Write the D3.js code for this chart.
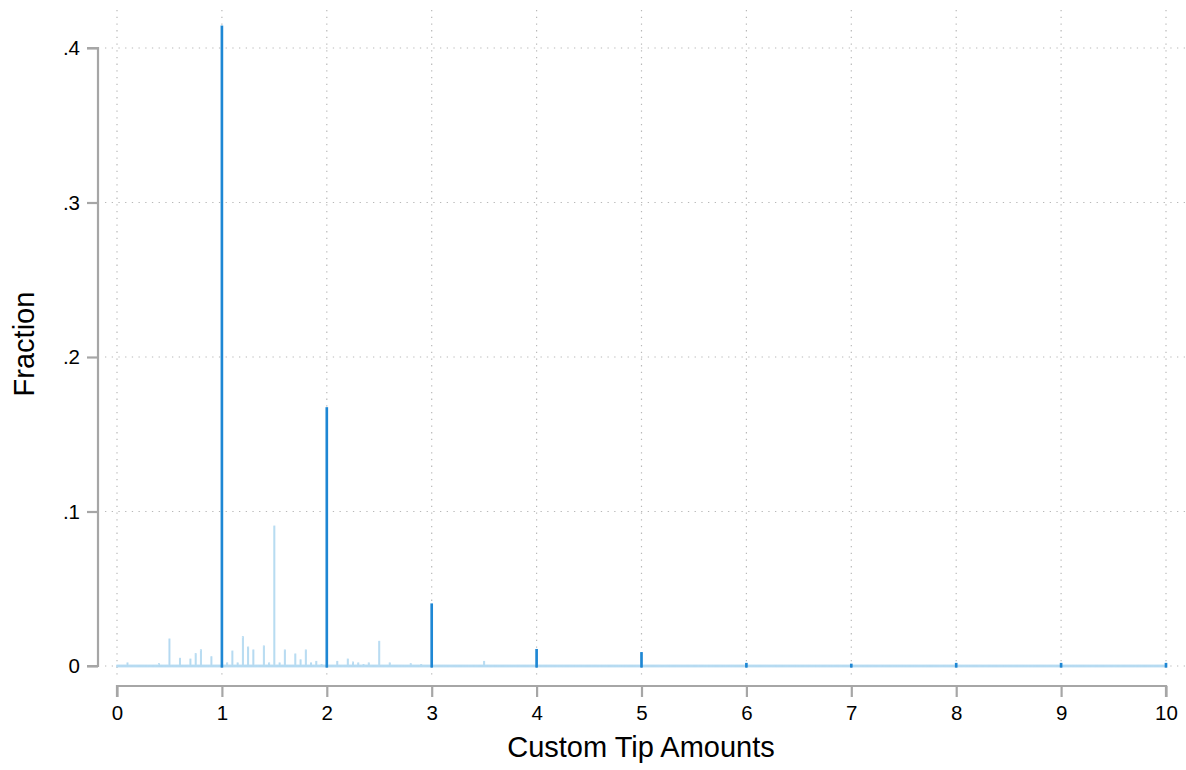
<!DOCTYPE html>
<html>
<head>
<meta charset="utf-8">
<script src="https://cdn.jsdelivr.net/npm/d3@7"></script>
<style>
  html, body { margin: 0; padding: 0; background: #fff; }
  svg { display: block; }
  text { font-family: "Liberation Sans", Arial, Helvetica, sans-serif; fill: #000; }
</style>
</head>
<body>
<svg id="chart" width="1186" height="770"></svg>
<script>
// ---- data ----
// non-integer custom tip amounts (bin value, fraction)
const lightAmounts = [0.1, 0.4, 0.5, 0.6, 0.7, 0.75, 0.8, 0.9, 1.05, 1.1, 1.15, 1.2, 1.25, 1.3, 1.4, 1.45, 1.5, 1.55, 1.6, 1.7, 1.75, 1.8, 1.85, 1.9, 1.95, 2.1, 2.2, 2.25, 2.3, 2.35, 2.4, 2.5, 2.6, 2.8, 2.9, 3.5];
const lightFractions = [0.002, 0.0015, 0.0175, 0.005, 0.0045, 0.008, 0.0105, 0.006, 0.002, 0.0097, 0.002, 0.019, 0.0123, 0.0104, 0.013, 0.002, 0.0906, 0.002, 0.0104, 0.0078, 0.004, 0.0104, 0.002, 0.003, 0.001, 0.003, 0.0045, 0.0026, 0.002, 0.001, 0.002, 0.016, 0.002, 0.0015, 0.001, 0.003];
// whole-dollar custom tip amounts
const darkAmounts = [1, 2, 3, 4, 5, 6, 7, 8, 9, 10];
const darkFractions = [0.414, 0.167, 0.040, 0.0105, 0.0085, 0.0015, 0.001, 0.0015, 0.0015, 0.0015];
// histogram bin grid
const binWidth = 0.01;
const binMin = 0, binMax = 10;
const xTicks = [0, 1, 2, 3, 4, 5, 6, 7, 8, 9, 10];
const yTicks = [0, 0.1, 0.2, 0.3, 0.4];
const yTickLabels = ["0", ".1", ".2", ".3", ".4"];
const xTitle = "Custom Tip Amounts";
const yTitle = "Fraction";

// ---- drawing ----
const svg = d3.select("#chart");
const x = d3.scaleLinear().domain([0, 10]).range([117, 1166]);
const y = d3.scaleLinear().domain([0, 0.4]).range([666, 48]);

const gridColor = "#b8b8b8";
const axisColor = "#a6a6a6";
const light = "#b5daf1";
const dark = "#1e87d4";

// grid
const grid = svg.append("g");
grid.selectAll("line.v").data(xTicks).enter().append("line")
  .attr("x1", d => x(d)).attr("x2", d => x(d))
  .attr("y1", 10).attr("y2", 679)
  .attr("stroke", gridColor).attr("stroke-width", 1.2)
  .attr("stroke-dasharray", "1.3 5.4");
grid.selectAll("line.h").data(yTicks).enter().append("line")
  .attr("y1", d => y(d)).attr("y2", d => y(d))
  .attr("x1", 105).attr("x2", 1186)
  .attr("stroke", gridColor).attr("stroke-width", 1.2)
  .attr("stroke-dasharray", "1.3 5.4");

// all bins (zero-height bins show as thin outlines along the baseline)
const nBins = Math.round((binMax - binMin) / binWidth) + 1;
const bins = d3.range(nBins).map(i => +(binMin + i * binWidth).toFixed(2));
const lightMap = new Map(lightAmounts.map((a, i) => [a.toFixed(2), lightFractions[i]]));
const darkSet = new Set(darkAmounts.map(a => a.toFixed(2)));
const bw = x(binWidth) - x(0);
const minH = 1.6;
const base = y(0) + 0.8;

svg.append("g").selectAll("rect").data(bins.filter(b => !darkSet.has(b.toFixed(2)))).enter().append("rect")
  .attr("x", d => x(d) - bw / 2)
  .attr("width", bw)
  .attr("y", d => Math.min(y(lightMap.get(d.toFixed(2)) || 0), base - minH))
  .attr("height", d => Math.max(base - y(lightMap.get(d.toFixed(2)) || 0), minH))
  .attr("fill", light).attr("stroke", light).attr("stroke-width", 0.9);

svg.append("g").selectAll("rect").data(darkAmounts).enter().append("rect")
  .attr("x", d => x(d) - bw / 2)
  .attr("width", bw)
  .attr("y", (d, i) => y(darkFractions[i]))
  .attr("height", (d, i) => base - y(darkFractions[i]))
  .attr("fill", dark).attr("stroke", dark).attr("stroke-width", 1.6);

// y axis
const yAxis = d3.axisLeft(y).tickValues(yTicks).tickFormat((d, i) => yTickLabels[i]).tickSize(11).tickPadding(7);
const gy = svg.append("g").attr("transform", "translate(98,0)").call(yAxis);
gy.select(".domain").attr("d", `M-11,${y(0.4)}H0V${y(0)}H-11`).attr("stroke", axisColor).attr("stroke-width", 2.2).attr("fill", "none");
gy.selectAll(".tick line").attr("stroke", axisColor).attr("stroke-width", 2.2);
gy.selectAll(".tick text").attr("font-size", 20.5).attr("font-family", "Liberation Sans, Arial, sans-serif").attr("fill", "#000");

// x axis
const xAxis = d3.axisBottom(x).tickValues(xTicks).tickFormat(d3.format("d")).tickSize(11).tickPadding(8);
const gx = svg.append("g").attr("transform", "translate(0,686)").call(xAxis);
gx.select(".domain").attr("d", `M${x(0)},11V0H${x(10)}V11`).attr("stroke", axisColor).attr("stroke-width", 2.2).attr("fill", "none");
gx.selectAll(".tick line").attr("stroke", axisColor).attr("stroke-width", 2.2);
gx.selectAll(".tick text").attr("font-size", 20.5).attr("font-family", "Liberation Sans, Arial, sans-serif").attr("fill", "#000");

// titles
svg.append("text").attr("x", 641).attr("y", 757).attr("text-anchor", "middle")
  .attr("font-size", 29).text(xTitle);
svg.append("text").attr("transform", "translate(34,344) rotate(-90)").attr("text-anchor", "middle")
  .attr("font-size", 29).text(yTitle);
</script>
</body>
</html>
